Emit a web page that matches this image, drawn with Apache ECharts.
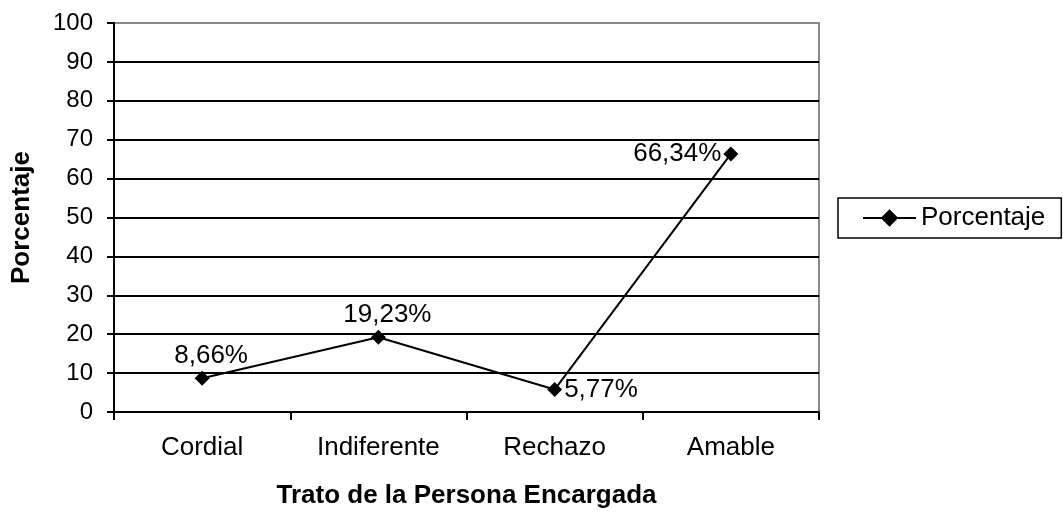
<!DOCTYPE html>
<html>
<head>
<meta charset="utf-8">
<script src="https://cdn.jsdelivr.net/npm/echarts@6/dist/echarts.min.js"></script>
<style>
html,body{margin:0;padding:0;background:#fff;}
#main{width:1063px;height:512px;}
</style>
</head>
<body>
<div id="main"></div>
<script>
var categories = ['Cordial', 'Indiferente', 'Rechazo', 'Amable'];
var values = [8.66, 19.23, 5.77, 66.34];
var labelPos = ['top', 'top', 'right', 'left'];

var fontFam = 'Arial, "Liberation Sans", sans-serif';

var seriesData = values.map(function(v, i){
    var lp = {position: labelPos[i]};
    if (labelPos[i] == 'top') { lp.offset = [9, 0]; }
    return {value: v, label: lp};
});

var myChart = echarts.init(document.getElementById('main'));
var option = {
    animation: false,
    grid: {
        left: 114, top: 23, right: 244, bottom: 100,
        outerBoundsMode: 'none',
        containLabel: false,
        show: true, borderColor: '#888', borderWidth: 2, backgroundColor: 'transparent'
    },
    legend: {
        left: 838, top: 198,
        data: ['Porcentaje'],
        borderColor: '#000', borderWidth: 1.5,
        padding: [7, 16, 7, 24],
        itemWidth: 53, itemHeight: 22,
        textStyle: {fontFamily: fontFam, fontSize: 26, color: '#000'}
    },
    xAxis: {
        type: 'category',
        data: categories,
        boundaryGap: true,
        name: 'Trato de la Persona Encargada',
        nameLocation: 'middle',
        nameGap: 71,
        nameTextStyle: {fontFamily: fontFam, fontSize: 26, fontWeight: 'bold', color: '#000'},
        axisLine: {lineStyle: {color: '#000', width: 2}},
        axisTick: {show: true, length: 8, lineStyle: {color: '#000', width: 2}},
        axisLabel: {fontFamily: fontFam, fontSize: 26, color: '#000', margin: 23}
    },
    yAxis: {
        type: 'value',
        min: 0, max: 100, interval: 10,
        name: 'Porcentaje',
        nameLocation: 'middle',
        nameGap: 79,
        nameTextStyle: {fontFamily: fontFam, fontSize: 26, fontWeight: 'bold', color: '#000'},
        axisLine: {show: true, lineStyle: {color: '#000', width: 2}},
        axisTick: {show: true, length: 7, lineStyle: {color: '#000', width: 2}},
        axisLabel: {fontFamily: fontFam, fontSize: 24, color: '#000', margin: 21},
        splitLine: {show: true, showMaxLine: false, lineStyle: {color: '#000', width: 2}}
    },
    series: [{
        name: 'Porcentaje',
        type: 'line',
        data: seriesData,
        symbol: 'diamond',
        symbolSize: 15,
        lineStyle: {color: '#000', width: 2},
        itemStyle: {color: '#000'},
        label: {
            show: true,
            distance: 2,
            fontFamily: fontFam, fontSize: 26, color: '#000',
            formatter: function(p){ return p.value.toFixed(2).replace('.', ',') + '%'; }
        }
    }]
};
myChart.setOption(option);
</script>
</body>
</html>
